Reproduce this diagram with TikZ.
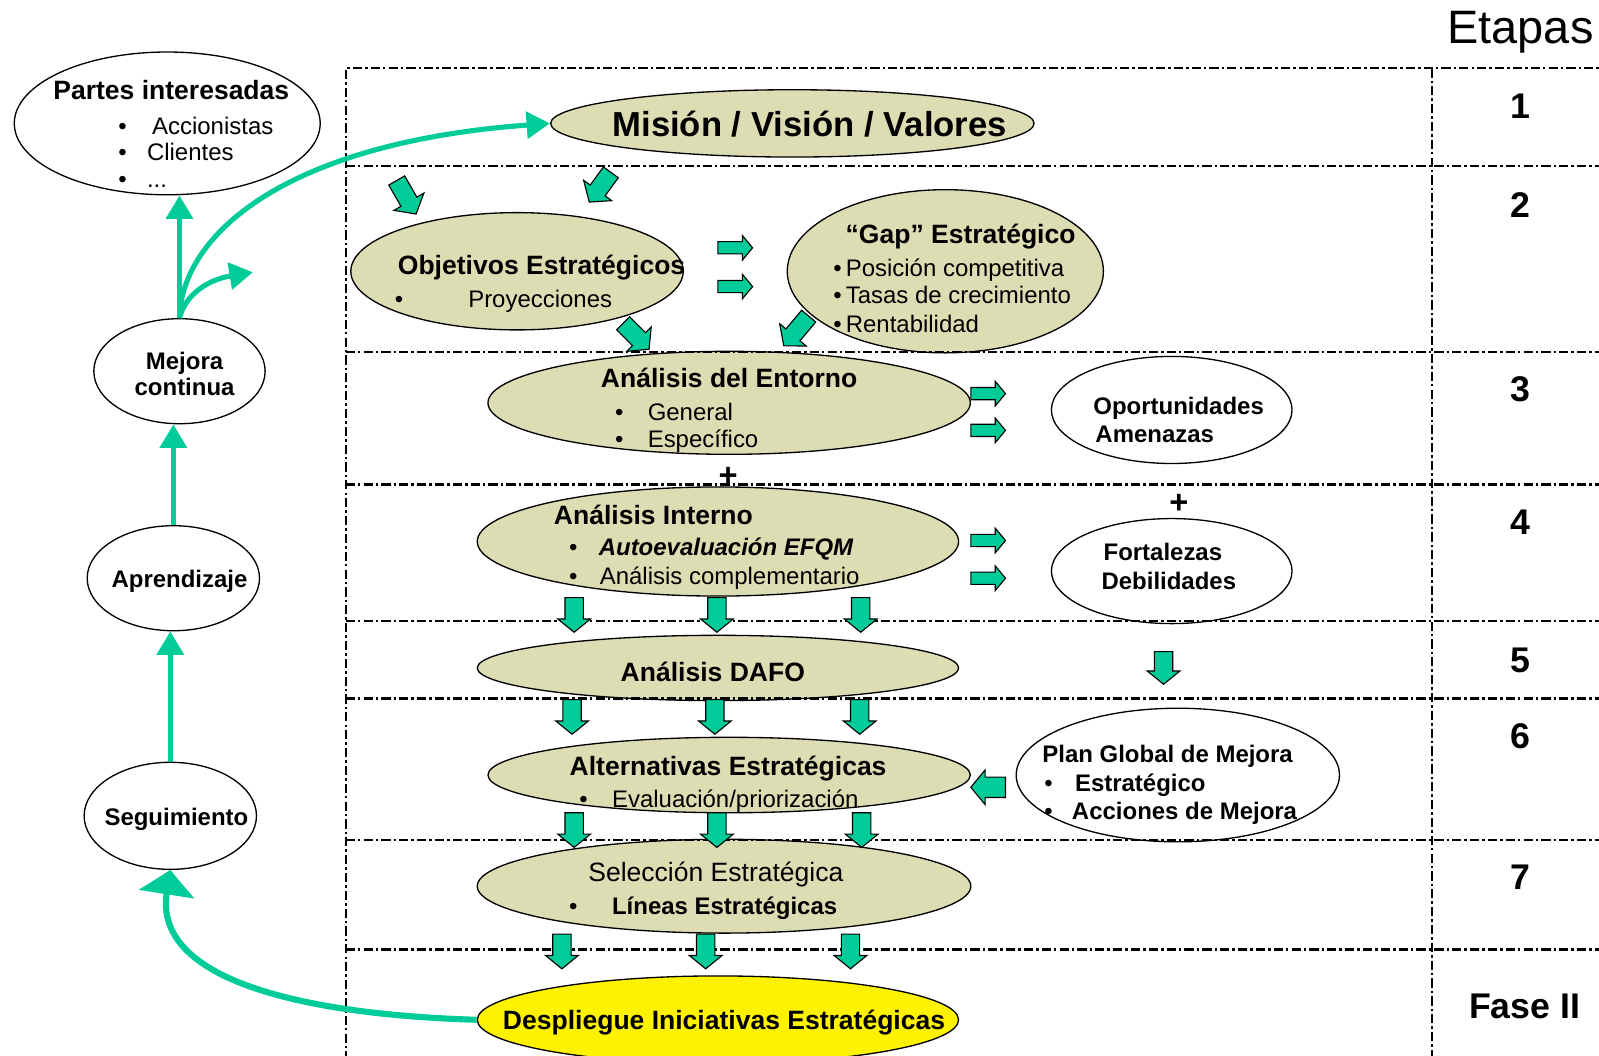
\documentclass[tikz,border=0pt]{standalone}
\usepackage{fontspec}
\setmainfont{Liberation Sans}
\usetikzlibrary{shapes.geometric,arrows.meta}
\definecolor{gr}{RGB}{0,204,153}
\definecolor{oliv}{RGB}{221,221,180}
\newcommand{\fs}[1]{\fontsize{#1}{#1}\selectfont}
% tail x, tail y, angle, length, head length, shaft half width, head half width
\newcommand{\blockarrow}[7]{%
  \draw[barrow, shift={(#1,#2)}, rotate=#3] (0,#6) -- ({#4-#5},#6) -- ({#4-#5},#7) -- (#4,0) -- ({#4-#5},-#7) -- ({#4-#5},-#6) -- (0,-#6) -- cycle;}
\newcommand{\darr}[2]{\blockarrow{#1}{#2}{-90}{34}{13}{9}{16}}
\newcommand{\rarr}[2]{\blockarrow{#1}{#2}{0}{34}{10}{6}{12}}
\begin{document}
\begin{tikzpicture}[x=1pt,y=-1pt,
  barrow/.style={draw=black, line width=1.1pt, fill=gr, line join=miter},
  olel/.style={ellipse, draw=black, line width=1.3pt, fill=oliv, inner sep=0pt},
  whel/.style={ellipse, draw=black, line width=1.3pt, fill=white, inner sep=0pt},
  frame/.style={line width=2.2pt, dash pattern=on 9pt off 3pt on 2.5pt off 3pt},
  tl/.style={inner sep=0pt, anchor=base west},
  tc/.style={inner sep=0pt, anchor=base},
  ttl/.style={font=\fs{26}\bfseries},
  itm/.style={font=\fs{23.5}},
  bitm/.style={font=\fs{23.5}\bfseries},
  garrow/.style={draw=gr, line width=5pt, -{Triangle[width=26pt,length=23pt]}},
  garrowb/.style={draw=gr, line width=6pt, -{Triangle[width=54pt,length=24pt]}}
]
\useasboundingbox (0,0) rectangle (1568,1035.5);

% ellipses
\node[whel, minimum width=300pt, minimum height=140pt] (partes) at (164,121) {};
\node[olel, minimum width=474pt, minimum height=66pt] (mision) at (777,121) {};
\node[olel, minimum width=326pt, minimum height=115pt] (objetivos) at (507,266) {};
\node[olel, minimum width=310pt, minimum height=160pt] (gap) at (927,266) {};
\node[olel, minimum width=473pt, minimum height=101pt] (entorno) at (715,395) {};
\node[olel, minimum width=472pt, minimum height=107pt] (interno) at (704,531) {};
\node[olel, minimum width=472pt, minimum height=64pt] (dafo) at (704,655) {};
\node[olel, minimum width=473pt, minimum height=74pt] (altern) at (715,760) {};
\node[olel, minimum width=484pt, minimum height=92pt] (seleccion) at (710,869) {};
\node[ellipse, draw=black, line width=1.3pt, fill=yellow, inner sep=0pt, minimum width=472pt, minimum height=86pt] (despliegue) at (704,1000) {};
\node[whel, minimum width=168pt, minimum height=103pt] (mejora) at (176,364) {};
\node[whel, minimum width=169pt, minimum height=103pt] (aprendizaje) at (170,567) {};
\node[whel, minimum width=169pt, minimum height=105pt] (seguimiento) at (167,800) {};
\node[whel, minimum width=236pt, minimum height=105pt] (oportunidades) at (1149,402) {};
\node[whel, minimum width=236pt, minimum height=103pt] (fortalezas) at (1149,560) {};
\node[whel, minimum width=317pt, minimum height=131pt] (plan) at (1155,760) {};

% frame
\draw[frame] (339,1040) -- (339,67) -- (1570,67);
\draw[frame] (1404,67) -- (1404,1040);
\foreach \yy in {163,345,475,609,685,824,931}
  \draw[frame] (339,\yy) -- (1570,\yy);

% column texts
\node[tc, font=\fs{46}] (etapas) at (1491,43) {Etapas};
\node[tc, font=\fs{35}\bfseries] (e1) at (1491,116) {1};
\node[tc, font=\fs{35}\bfseries] (e2) at (1491,213) {2};
\node[tc, font=\fs{35}\bfseries] (e3) at (1491,394) {3};
\node[tc, font=\fs{35}\bfseries] (e4) at (1491,524) {4};
\node[tc, font=\fs{35}\bfseries] (e5) at (1491,659) {5};
\node[tc, font=\fs{35}\bfseries] (e6) at (1491,734) {6};
\node[tc, font=\fs{35}\bfseries] (e7) at (1491,872) {7};
\node[tc, font=\fs{35}\bfseries] (fase) at (1495,999) {Fase II};

% partes interesadas
\node[tc, ttl] (pt) at (168,98) {Partes interesadas};
\node[tl, itm] (pb1) at (116,132) {\textbullet};
\node[tl, itm] (pi1) at (149,132) {Accionistas};
\node[tl, itm] (pb2) at (116,157) {\textbullet};
\node[tl, itm] (pi2) at (144,157) {Clientes};
\node[tl, itm] (pb3) at (116,184) {\textbullet};
\node[tl, itm] (pi3) at (144,184) {...};

% mision
\node[tc, font=\fs{34}\bfseries] (mt) at (794,134) {Misión / Visión / Valores};

% objetivos
\node[tl, ttl] (ot) at (390,269) {Objetivos Estratégicos};
\node[tl, itm] (ob) at (387,302) {\textbullet};
\node[tl, itm] (oi) at (459,302) {Proyecciones};

% gap
\node[tc, ttl] (gt) at (942,239) {“Gap” Estratégico};
\node[tl, itm] (g1) at (817,271) {\textbullet\hspace{4pt}Posición competitiva};
\node[tl, itm] (g2) at (817,298) {\textbullet\hspace{4pt}Tasas de crecimiento};
\node[tl, itm] (g3) at (817,326) {\textbullet\hspace{4pt}Rentabilidad};

% entorno
\node[tc, ttl] (ent) at (715,380) {Análisis del Entorno};
\node[tl, itm] (enb1) at (603,412) {\textbullet};
\node[tl, itm] (en1) at (635,412) {General};
\node[tl, itm] (enb2) at (603,439) {\textbullet};
\node[tl, itm] (en2) at (635,439) {Específico};

\node[tc, font=\fs{32}\bfseries] (plus1) at (714,477) {+};

% interno
\node[tl, ttl] (int) at (543,514) {Análisis Interno};
\node[tl, itm] (inb1) at (558,545) {\textbullet};
\node[tl, font=\fs{23.5}\bfseries\itshape] (in1) at (587,545) {Autoevaluación EFQM};
\node[tl, itm] (inb2) at (558,573) {\textbullet};
\node[tl, itm] (in2) at (588,573) {Análisis complementario};

% dafo
\node[tc, ttl] (dt) at (699,668) {Análisis DAFO};

% alternativas
\node[tc, ttl] (at) at (714,760) {Alternativas Estratégicas};
\node[tl, itm] (ab) at (568,792) {\textbullet};
\node[tl, itm] (ai) at (600,792) {Evaluación/priorización};

% seleccion
\node[tc, font=\fs{26}] (st) at (702,864) {Selección Estratégica};
\node[tl, itm] (sb) at (558,897) {\textbullet};
\node[tl, bitm] (si) at (600,897) {Líneas Estratégicas};

% despliegue
\node[tc, ttl] (dpt) at (710,1010) {Despliegue Iniciativas Estratégicas};

% left column
\node[tc, bitm] (mj1) at (181,362) {Mejora};
\node[tc, bitm] (mj2) at (181,388) {continua};
\node[tc, bitm] (apt) at (176,576) {Aprendizaje};
\node[tc, bitm] (sgt) at (173,809) {Seguimiento};

% right column
\node[tl, bitm] (op1) at (1072,406) {Oportunidades};
\node[tl, bitm] (op2) at (1074,434) {Amenazas};
\node[tc, font=\fs{32}\bfseries] (plus2) at (1156,504) {+};
\node[tl, bitm] (fo1) at (1082,550) {Fortalezas};
\node[tl, bitm] (fo2) at (1080,578) {Debilidades};
\node[tl, bitm] (pl1) at (1022,748) {Plan Global de Mejora};
\node[tl, itm] (plb1) at (1024,776) {\textbullet};
\node[tl, bitm] (pl2) at (1054,776) {Estratégico};
\node[tl, itm] (plb2) at (1024,804) {\textbullet};
\node[tl, bitm] (pl3) at (1051,804) {Acciones de Mejora};

% block arrows
\blockarrow{389}{177}{-60}{38}{14}{9}{17}
\blockarrow{599}{169}{-126}{36}{14}{9}{17}
\blockarrow{611}{317}{-45}{36}{14}{9}{17}
\blockarrow{793}{310}{-130}{38}{14}{9}{17}
\rarr{704}{243}
\rarr{704}{281}
\rarr{952}{386}
\rarr{952}{422}
\rarr{952}{530}
\rarr{952}{567}
\darr{563}{586}
\darr{703}{586}
\darr{844}{586}
\blockarrow{1141}{639}{-90}{32}{13}{9}{16}
\darr{561}{686}
\darr{701}{686}
\darr{843}{686}
\darr{563}{797}
\darr{703}{797}
\darr{845}{797}
\darr{551}{916}
\darr{692}{916}
\darr{834}{916}
\blockarrow{986}{772}{180}{34}{14}{10}{17}

% green connectors
\coordinate (sc) at (248,267);
\draw[garrow] (mejora.north) -- (mejora.north |- partes.south);
\draw[garrow] (mejora.north) .. controls (178,230) and (280,140) .. (mision.west);
\draw[garrow] (mejora.north) .. controls (182,288) and (205,274) .. (sc);
\draw[garrow] (aprendizaje.north) -- (aprendizaje.north |- mejora.south);
\draw[garrow] (seguimiento.north) -- (seguimiento.north |- aprendizaje.south);
\draw[garrowb] (despliegue.west) .. controls (300,995) and (150,962) .. (seguimiento.south);
\end{tikzpicture}
\end{document}
